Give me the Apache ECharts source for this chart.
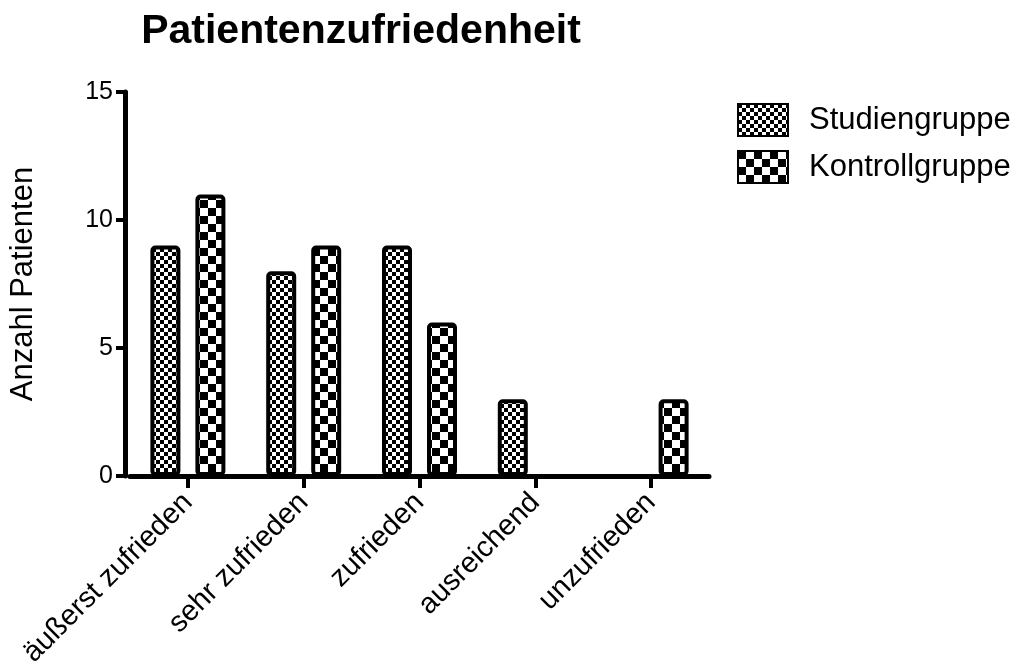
<!DOCTYPE html>
<html>
<head>
<meta charset="utf-8">
<script src="https://cdn.jsdelivr.net/npm/echarts@6/dist/echarts.min.js"></script>
<style>
  html, body { margin: 0; padding: 0; background: #fff; }
  #chart { width: 1020px; height: 670px; }
</style>
</head>
<body>
<div id="chart"></div>
<script>
const categories = ["äußerst zufrieden", "sehr zufrieden", "zufrieden", "ausreichend", "unzufrieden"];
const studiengruppe = [9, 8, 9, 3, 0];
const kontrollgruppe = [11, 9, 6, 0, 3];
const yTicks = [0, 5, 10, 15];

// checker patterns like the original hatching
function checker(size) {
  const c = document.createElement("canvas");
  c.width = size * 2;
  c.height = size * 2;
  const ctx = c.getContext("2d");
  ctx.fillStyle = "#fff";
  ctx.fillRect(0, 0, size * 2, size * 2);
  ctx.fillStyle = "#000";
  ctx.fillRect(0, 0, size, size);
  ctx.fillRect(size, size, size, size);
  return c;
}
const fine = { image: checker(4), repeat: "repeat" };
const coarse = { image: checker(8), repeat: "repeat" };

const font = "Liberation Sans, Arial, sans-serif";
let myChart = echarts.init(document.getElementById("chart"));
let option = {
  animation: false,
  title: {
    text: "Patientenzufriedenheit",
    left: 356,
    textAlign: "center",
    top: 6,
    textStyle: { fontFamily: font, fontSize: 41, fontWeight: "bold", color: "#000" },
  },
  legend: {
    orient: "vertical",
    left: 732,
    top: 98,
    icon: "rect",
    itemWidth: 50,
    itemHeight: 32,
    itemGap: 13,
    textStyle: { fontFamily: font, fontSize: 31, color: "#000", padding: [0, 0, 0, 16] },
    data: ["Studiengruppe", "Kontrollgruppe"],
  },
  grid: { left: 127, right: 311, top: 92, bottom: 193 },
  xAxis: {
    type: "category",
    data: categories,
    axisLine: { lineStyle: { color: "#000", width: 5 } },
    axisTick: { show: true, alignWithLabel: true, length: 12, lineStyle: { color: "#000", width: 4 } },
    axisLabel: {
      rotate: 45,
      interval: 0,
      margin: 22,
      fontFamily: font,
      fontSize: 29,
      color: "#000",
    },
  },
  yAxis: {
    type: "value",
    min: 0,
    max: 15,
    interval: 5,
    offset: 5,
    name: "Anzahl Patienten",
    nameLocation: "middle",
    nameGap: 86,
    nameTextStyle: { fontFamily: font, fontSize: 31, color: "#000" },
    splitLine: { show: false },
    axisLine: { show: true, lineStyle: { color: "#000", width: 5 } },
    axisTick: { show: true, length: 9, lineStyle: { color: "#000", width: 4 } },
    axisLabel: {
      margin: 12,
      fontFamily: font,
      fontSize: 25,
      color: "#000",
      formatter: (v) => (yTicks.includes(v) ? String(v) : ""),
    },
  },
  series: [
    {
      name: "Studiengruppe",
      type: "bar",
      barWidth: 30,
      barGap: "50%",
      data: studiengruppe,
      itemStyle: { color: fine, borderColor: "#000", borderWidth: 4, borderRadius: 3 },
    },
    {
      name: "Kontrollgruppe",
      type: "bar",
      barWidth: 30,
      data: kontrollgruppe,
      itemStyle: { color: coarse, borderColor: "#000", borderWidth: 4, borderRadius: 3 },
    },
  ],
};
option && myChart.setOption(option);
</script>
</body>
</html>
